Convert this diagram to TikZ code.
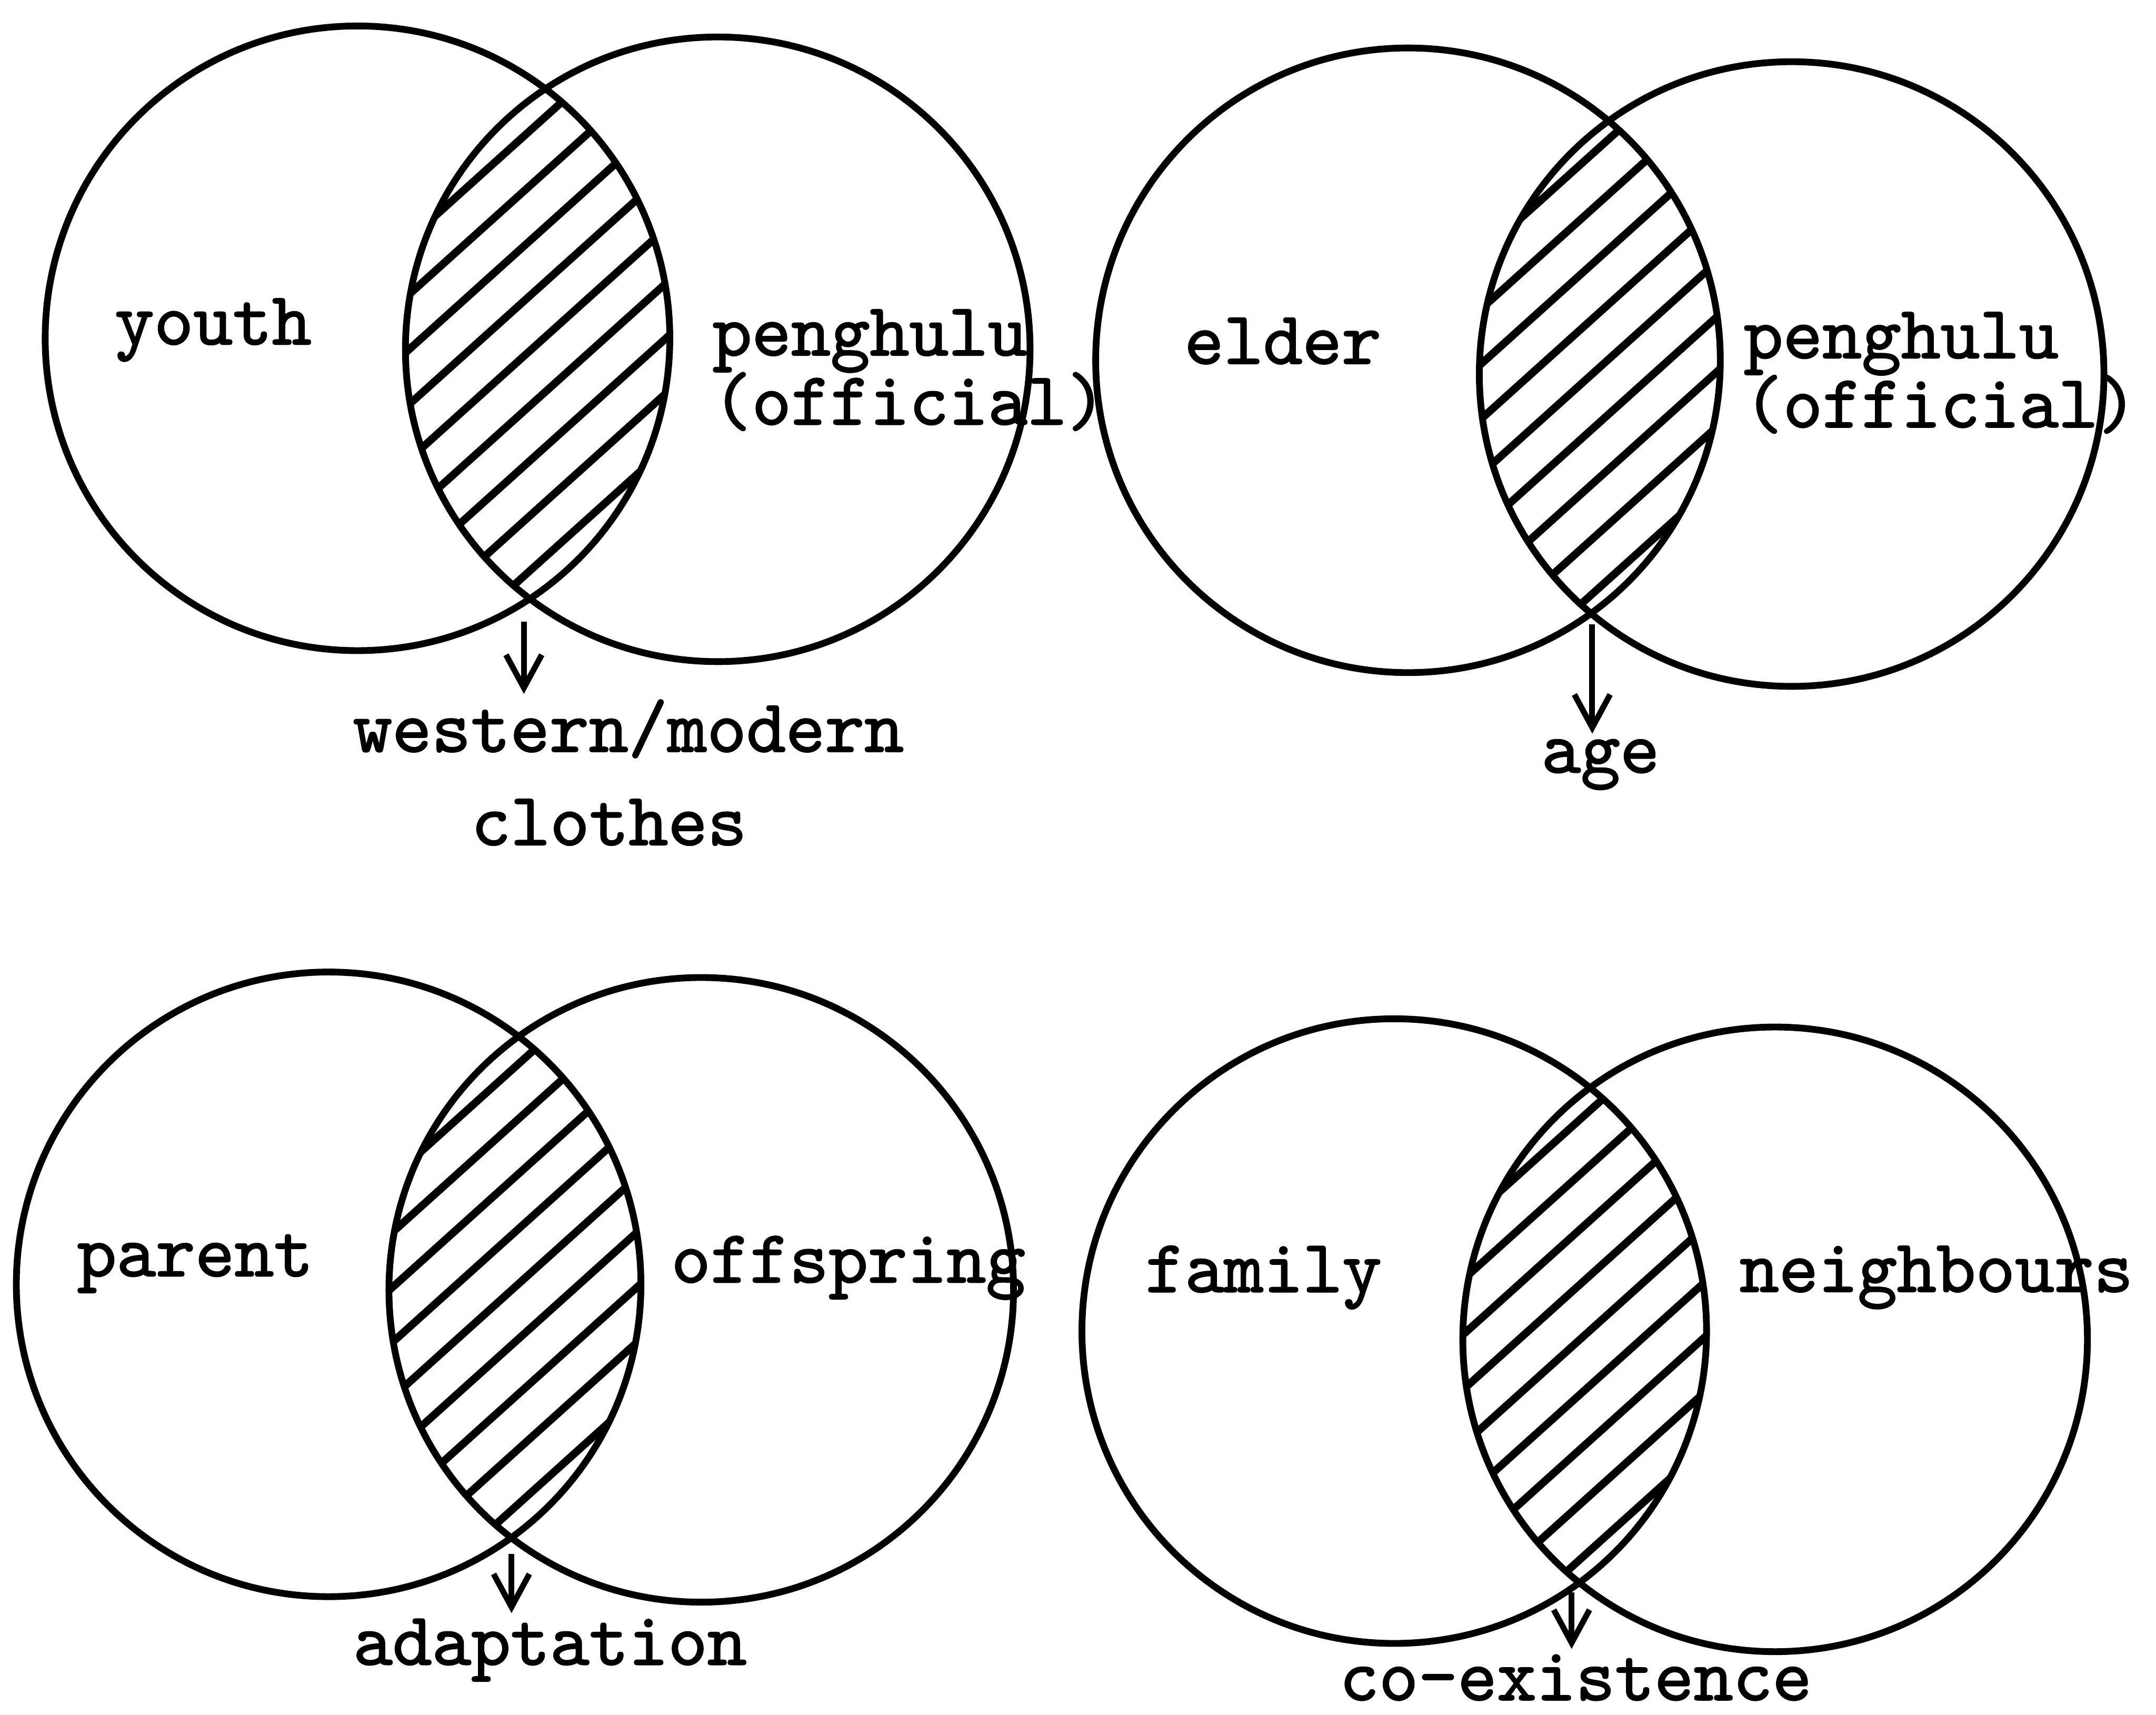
\documentclass[tikz,border=0pt]{standalone}
\usepackage{fontspec}
\newfontfamily\typed{lmmono10-regular.otf}[FakeBold=1.6]
\usepackage{tikz}
\usetikzlibrary{positioning,arrows.meta,calc}

\begin{document}
\begin{tikzpicture}[
      x=0.01cm, y=-0.01cm,
      ring/.style={line width=1.4pt},
      hatch/.style={line width=1.6pt, line cap=round},
      lbl/.style={font=\typed\fontsize{15.5}{17}\selectfont, inner sep=1pt},
      pointer/.style={-{Straight Barb[length=2.4mm, width=2.6mm]}, line width=1.2pt},
    ]
    \useasboundingbox[fill=white] (0,0) rectangle (1568,1247);

    % circle centres
    \coordinate (youthc) at (260,246);
    \coordinate (penghc) at (522,254);
    \coordinate (elderc) at (1024,262);
    \coordinate (pengbc) at (1303,272);
    \coordinate (parentc) at (239,934);
    \coordinate (offc) at (510,938);
    \coordinate (famc) at (1014,968);
    \coordinate (neighc) at (1291,974);

    % hatched overlaps
    \foreach \l/\r in {youthc/penghc, elderc/pengbc, parentc/offc, famc/neighc}{
      \begin{scope}
        \clip (\l) circle[radius=2.27cm];
        \clip (\r) circle[radius=2.27cm];
        \foreach \k in {-7,...,7}
          \draw[hatch] ($(\l)!0.5!(\r)+(-150,\k*40+135)$) -- ++(300,-270);
      \end{scope}
    }

    % circles
    \foreach \c in {youthc, penghc, elderc, pengbc, parentc, offc, famc, neighc}
      \draw[ring] (\c) circle[radius=2.27cm];

    % youth / penghulu
    \node[lbl] (youth) at (155,240) {youth};
    \node[lbl, anchor=west] (pengA) at (514,248) {penghulu};
    \node[lbl, anchor=west] (offA) at (514,292) {(official)};
    \coordinate (lensA) at (381,452);
    \node[lbl] (western) at (457,530) {western/modern};
    \node[lbl] (clothes) at (443,598) {clothes};
    \draw[pointer] (lensA) -- (lensA |- western.north);

    % elder / penghulu
    \node[lbl] (elder) at (933,248) {elder};
    \node[lbl, anchor=west] (pengB) at (1264,250) {penghulu};
    \node[lbl, anchor=west] (offB) at (1264,294) {(official)};
    \coordinate (lensB) at (1158,454);
    \node[lbl] (age) at (1164,556) {age};
    \draw[pointer] (lensB) -- (lensB |- age.north);

    % parent / offspring
    \node[lbl] (parent) at (142,919) {parent};
    \node[lbl, anchor=west] (offspring) at (484,922) {offspring};
    \coordinate (lensC) at (372,1130);
    \node[lbl] (adaptation) at (400,1200) {adaptation};
    \draw[pointer] (lensC) -- (lensC |- adaptation.north);

    % family / neighbours
    \node[lbl] (family) at (919,929) {family};
    \node[lbl, anchor=west] (neighbours) at (1261,929) {neighbours};
    \coordinate (lensD) at (1143,1158);
    \node[lbl] (coexist) at (1146,1220) {co-existence};
    \draw[pointer] (lensD) -- (lensD |- coexist.north);
  \end{tikzpicture}
\end{document}
